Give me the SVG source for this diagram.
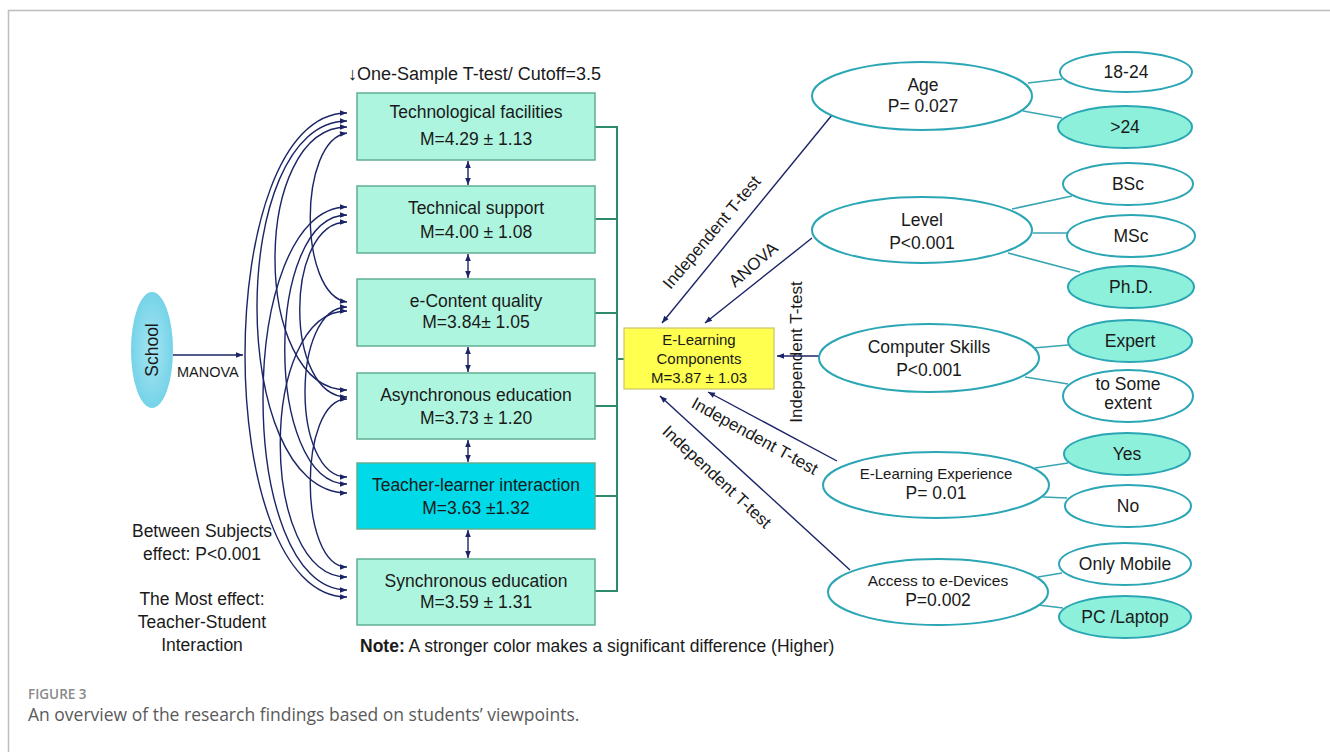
<svg xmlns="http://www.w3.org/2000/svg" width="1330" height="752" viewBox="0 0 1330 752">
<defs>
<marker id="ah" viewBox="0 0 10 10" refX="10" refY="5" markerWidth="8" markerHeight="7" markerUnits="userSpaceOnUse" orient="auto-start-reverse"><path d="M0,1 L10,5 L0,9 z" fill="#1b2466"/></marker>
<radialGradient id="schoolG" cx="0.5" cy="0.5" r="0.6"><stop offset="0" stop-color="#a6e6f2"/><stop offset="1" stop-color="#6ccfe6"/></radialGradient>
<style>
text{font-family:"Liberation Sans",Arial,sans-serif;fill:#1a1a1a}
.box{fill:#aef5df;stroke:#5fae93;stroke-width:1.5}
.hi{fill:#00d9e8}
.t17{font-size:17.5px;text-anchor:middle}
.t15{font-size:15px;text-anchor:middle}
.t16{font-size:17px;text-anchor:middle}
.ell{fill:#fff;stroke:#2ba6b5;stroke-width:2}
.sel{fill:#8df0db}
.br{stroke:#2d8a6c;stroke-width:2;fill:none}
.arc{stroke:#1b2466;stroke-width:1.4;fill:none;marker-start:url(#ah);marker-end:url(#ah)}
.nav{stroke:#1b2466;stroke-width:1.4;fill:none;marker-end:url(#ah)}
.tl{stroke:#3aa5b2;stroke-width:1.5;fill:none}
.cap{font-family:"Open Sans",sans-serif}
</style>
</defs>
<rect x="0" y="0" width="1330" height="752" fill="#fff"/>
<path d="M8.5,752 V10.5 H1330" fill="none" stroke="#bdbdbd" stroke-width="1.5"/>

<text x="348" y="80" font-size="18px">↓One-Sample T-test/ Cutoff=3.5</text>

<g id="connectors">
<path class="arc" d="M347,113 C211,113 211,597 347,597"/>
<path class="arc" d="M347,121 C227,121 227,493 347,493"/>
<path class="arc" d="M347,127 C251,127 251,390 347,390"/>
<path class="arc" d="M347,133 C298,140 298,295 347,302"/>
<path class="arc" d="M347,207 C235,207 235,590 347,590"/>
<path class="arc" d="M347,215 C264,215 264,484 347,484"/>
<path class="arc" d="M347,222 C284,222 284,397 347,397"/>
<path class="arc" d="M347,311 C258,311 258,577 347,577"/>
<path class="arc" d="M347,307 C291,307 291,477 347,477"/>
<path class="arc" d="M347,399 C298,399 298,567 347,567"/>
<path class="arc" d="M468,161 V185"/>
<path class="arc" d="M468,254 V278"/>
<path class="arc" d="M468,347 V372"/>
<path class="arc" d="M468,440 V462"/>
<path class="arc" d="M468,530 V558"/>
<path class="nav" d="M173,355 H243"/>
<path class="br" d="M595,127 H617 M595,219 H617 M595,313 H617 M595,406 H617 M595,496 H617 M595,591 H617 M617,126 V592 M617,359 H624"/>
<path class="nav" d="M832,115 L662,323"/>
<path class="nav" d="M812,238 L705,323"/>
<path class="nav" d="M819,356 L777,356"/>
<path class="nav" d="M837,461 L708,392"/>
<path class="nav" d="M850,570 L660,396"/>
<path class="tl" d="M1028,83 L1062,79 M1023,111 L1062,118 M1012,209 L1072,196 M1033,233 L1067,233 M1008,253 L1080,272 M1033,348 L1068,345 M1025,377 L1068,384 M1035,468 L1068,463 M1043,497 L1067,498 M1038,577 L1062,573 M1038,605 L1063,608"/>
</g>

<g id="school">
<ellipse cx="152" cy="350" rx="21" ry="58" fill="url(#schoolG)"/>
<text class="t17" transform="translate(158,350) rotate(-90)">School</text>
</g>
<text x="177" y="377" font-size="14.5px">MANOVA</text>

<g id="b1"><rect class="box" x="357" y="93" width="238" height="67"/><text class="t17" x="476" y="118">Technological facilities</text><text class="t17" x="476" y="145">M=4.29 ± 1.13</text></g>
<g id="b2"><rect class="box" x="357" y="186" width="238" height="67"/><text class="t17" x="476" y="214">Technical support</text><text class="t17" x="476" y="238">M=4.00 ± 1.08</text></g>
<g id="b3"><rect class="box" x="357" y="279" width="238" height="67"/><text class="t17" x="476" y="307">e-Content quality</text><text class="t17" x="476" y="328">M=3.84± 1.05</text></g>
<g id="b4"><rect class="box" x="357" y="373" width="238" height="66"/><text class="t17" x="476" y="401">Asynchronous education</text><text class="t17" x="476" y="424">M=3.73 ± 1.20</text></g>
<g id="b5"><rect class="box hi" x="357" y="463" width="238" height="66"/><text class="t17" x="476" y="491">Teacher-learner interaction</text><text class="t17" x="476" y="514">M=3.63 ±1.32</text></g>
<g id="b6"><rect class="box" x="357" y="559" width="238" height="66"/><text class="t17" x="476" y="587">Synchronous education</text><text class="t17" x="476" y="608">M=3.59 ± 1.31</text></g>

<g id="elc"><rect x="624" y="328" width="150" height="61" fill="#ffff4f" stroke="#cbc46a" stroke-width="1.2"/><text class="t15" x="699" y="345">E-Learning</text><text class="t15" x="699" y="364">Components</text><text class="t15" x="699" y="383">M=3.87 ± 1.03</text></g>

<text class="t16" transform="translate(716,236) rotate(-50)">Independent T-test</text>
<text class="t16" transform="translate(757,269) rotate(-41)">ANOVA</text>
<text class="t16" transform="translate(802,352) rotate(-90)">Independent T-test</text>
<text class="t16" transform="translate(752,441) rotate(29)">Independent T-test</text>
<text class="t16" transform="translate(713,481) rotate(43)">Independent T-test</text>

<g id="age"><ellipse class="ell" cx="922" cy="96" rx="110" ry="34"/><text class="t17" x="923" y="91">Age</text><text class="t17" x="923" y="112">P= 0.027</text></g>
<g id="level"><ellipse class="ell" cx="922" cy="230" rx="110" ry="33"/><text class="t17" x="922" y="226">Level</text><text class="t17" x="922" y="249">P&lt;0.001</text></g>
<g id="cs"><ellipse class="ell" cx="929" cy="358" rx="110" ry="34"/><text class="t17" x="929" y="353">Computer Skills</text><text class="t17" x="929" y="376">P&lt;0.001</text></g>
<g id="ele"><ellipse class="ell" cx="936" cy="485" rx="113" ry="33"/><text class="t15" x="936" y="479">E-Learning Experience</text><text class="t17" x="936" y="499">P= 0.01</text></g>
<g id="acc"><ellipse class="ell" cx="938" cy="592" rx="110" ry="33"/><text class="t15" x="938" y="586" style="font-size:15.5px">Access to e-Devices</text><text class="t17" x="938" y="606">P=0.002</text></g>

<g id="c1824"><ellipse class="ell" cx="1126" cy="72" rx="66" ry="20"/><text class="t17" x="1126" y="78">18-24</text></g>
<g id="cgt24"><ellipse class="ell sel" cx="1125" cy="127" rx="67" ry="21"/><text class="t17" x="1125" y="133">&gt;24</text></g>
<g id="cbsc"><ellipse class="ell" cx="1128" cy="184" rx="65" ry="21"/><text class="t17" x="1128" y="190">BSc</text></g>
<g id="cmsc"><ellipse class="ell" cx="1131" cy="236" rx="64" ry="21"/><text class="t17" x="1131" y="242">MSc</text></g>
<g id="cphd"><ellipse class="ell sel" cx="1131" cy="287" rx="63" ry="21"/><text class="t17" x="1131" y="293">Ph.D.</text></g>
<g id="cexp"><ellipse class="ell sel" cx="1130" cy="341" rx="62" ry="21"/><text class="t17" x="1130" y="347">Expert</text></g>
<g id="csome"><ellipse class="ell" cx="1128" cy="396" rx="65" ry="26"/><text class="t17" x="1128" y="390">to Some</text><text class="t17" x="1128" y="409">extent</text></g>
<g id="cyes"><ellipse class="ell sel" cx="1127" cy="454" rx="63" ry="21"/><text class="t17" x="1127" y="460">Yes</text></g>
<g id="cno"><ellipse class="ell" cx="1128" cy="506" rx="63" ry="21"/><text class="t17" x="1128" y="512">No</text></g>
<g id="cmob"><ellipse class="ell" cx="1125" cy="564" rx="66" ry="21"/><text class="t17" x="1125" y="570">Only Mobile</text></g>
<g id="cpc"><ellipse class="ell sel" cx="1125" cy="617" rx="66" ry="21"/><text class="t17" x="1125" y="623">PC /Laptop</text></g>

<text class="t17" x="202" y="537">Between Subjects</text>
<text class="t17" x="202" y="560">effect: P&lt;0.001</text>
<text class="t17" x="202" y="605">The Most effect:</text>
<text class="t17" x="202" y="628">Teacher-Student</text>
<text class="t17" x="202" y="651">Interaction</text>

<text x="360" y="652" font-size="17.5px"><tspan font-weight="bold">Note:</tspan> A stronger color makes a significant difference (Higher)</text>

<text class="cap" x="28" y="699" font-size="13.5px" font-weight="600" style="fill:#8a8a8a">FIGURE 3</text>
<text class="cap" x="28" y="721" font-size="17.5px" style="fill:#5a5a5a">An overview of the research findings based on students’ viewpoints.</text>
</svg>
